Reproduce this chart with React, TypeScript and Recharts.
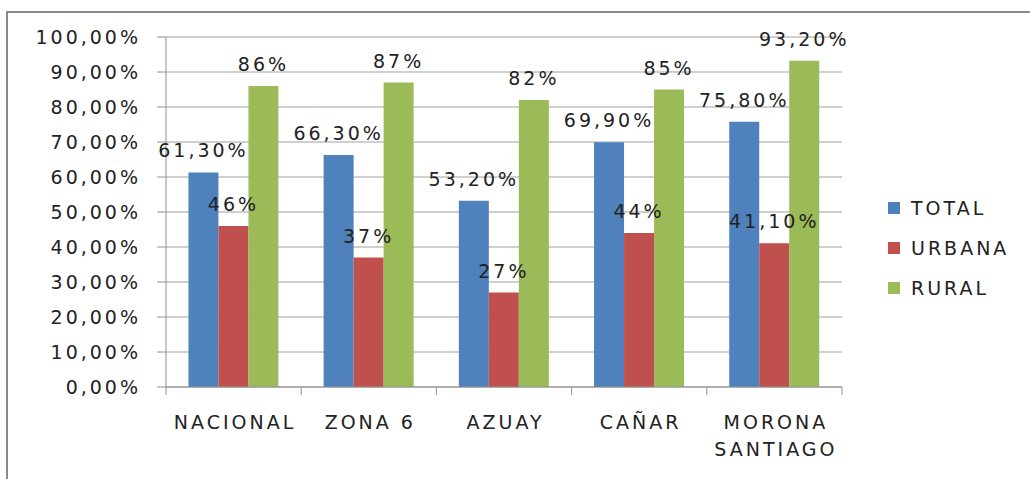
import React from 'react';
import { BarChart, Bar, XAxis, YAxis, CartesianGrid, Legend, LabelList } from 'recharts';

const categories = ['NACIONAL', 'ZONA 6', 'AZUAY', 'CAÑAR', 'MORONA SANTIAGO'];
const totalValues = [61.3, 66.3, 53.2, 69.9, 75.8];
const urbanaValues = [46, 37, 27, 44, 41.1];
const ruralValues = [86, 87, 82, 85, 93.2];
const totalLabels = ['61,30%', '66,30%', '53,20%', '69,90%', '75,80%'];
const urbanaLabels = ['46%', '37%', '27%', '44%', '41,10%'];
const ruralLabels = ['86%', '87%', '82%', '85%', '93,20%'];
const yTicks = [0, 10, 20, 30, 40, 50, 60, 70, 80, 90, 100];
const seriesNames = ['TOTAL', 'URBANA', 'RURAL'];
const seriesColors = ['#4F81BD', '#C0504D', '#9BBB59'];

const data = categories.map((c, i) => ({
  name: c,
  total: totalValues[i],
  urbana: urbanaValues[i],
  rural: ruralValues[i],
  totalLabel: totalLabels[i],
  urbanaLabel: urbanaLabels[i],
  ruralLabel: ruralLabels[i],
}));

const CHART_W = 1030;
const CHART_H = 479;
const MARGIN = { top: 37, right: 188, bottom: 91, left: 0 };
const Y_AXIS_W = 166;
const PLOT_W = CHART_W - MARGIN.right - MARGIN.left - Y_AXIS_W;

const FONT = '"DejaVu Sans", Verdana, sans-serif';
const textStyle = { fontFamily: FONT, fontSize: 19, letterSpacing: 3, fill: '#222' };
const AXIS_COLOR = '#909090';

const CatTick = (props: any) => {
  const { x, y, payload, index } = props;
  const v: string = payload.value;
  const lines = v.length > 10 ? v.split(' ') : [v];
  const half = PLOT_W / categories.length / 2;
  return (
    <g>
      <line x1={x - half} x2={x - half} y1={y} y2={y + 8} stroke={AXIS_COLOR} />
      {index === categories.length - 1 && (
        <line x1={x + half} x2={x + half} y1={y} y2={y + 8} stroke={AXIS_COLOR} />
      )}
      <text x={x} y={y} textAnchor="middle" style={textStyle as any}>
        {lines.map((w, i) => (
          <tspan key={i} x={x + 1.5} dy={i === 0 ? 42 : 27}>
            {w}
          </tspan>
        ))}
      </text>
    </g>
  );
};

const LegendContent = () => (
  <div style={{ fontFamily: FONT, fontSize: 19, letterSpacing: 3, color: '#222' }}>
    {seriesNames.map((n, i) => (
      <div key={n} style={{ display: 'flex', alignItems: 'center', height: 40 }}>
        <div style={{ width: 12, height: 12, background: seriesColors[i], marginRight: 11 }} />
        <span>{n}</span>
      </div>
    ))}
  </div>
);

const fmt = (v: number) => v.toFixed(2).replace('.', ',') + '%';

export default function App() {
  return (
    <div style={{ position: 'absolute', left: 0, top: 0, width: CHART_W, height: CHART_H, overflow: 'hidden', background: '#fff' }}>
      <div
        style={{
          position: 'absolute',
          left: 6,
          top: 11,
          width: 1100,
          height: 600,
          border: '2px solid #8a8a8a',
        }}
      />
      <div style={{ position: 'absolute', left: 0, top: 0 }}>
        <BarChart
          width={CHART_W}
          height={CHART_H}
          data={data}
          margin={MARGIN}
          barCategoryGap="16.6%"
          barGap={0}
        >
          <CartesianGrid vertical={false} stroke="#a0a0a0" />
          <XAxis
            dataKey="name"
            height={1}
            tickLine={false}
            tickSize={0}
            tickMargin={0}
            axisLine={{ stroke: AXIS_COLOR }}
            tick={<CatTick />}
            interval={0}
          />
          <YAxis
            width={Y_AXIS_W}
            domain={[0, 100]}
            ticks={yTicks}
            tickFormatter={fmt}
            tickSize={9}
            tickMargin={16}
            axisLine={{ stroke: AXIS_COLOR }}
            tickLine={{ stroke: AXIS_COLOR }}
            tick={textStyle as any}
            interval={0}
          />
          <Legend
            layout="vertical"
            align="center"
            verticalAlign="middle"
            wrapperStyle={{ left: 888, top: 188, width: 140 }}
            content={<LegendContent />}
          />
          <Bar dataKey="total" name="TOTAL" fill={seriesColors[0]} isAnimationActive={false}>
            <LabelList dataKey="totalLabel" position="top" offset={15} style={textStyle as any} />
          </Bar>
          <Bar dataKey="urbana" name="URBANA" fill={seriesColors[1]} isAnimationActive={false}>
            <LabelList dataKey="urbanaLabel" position="top" offset={15} style={textStyle as any} />
          </Bar>
          <Bar dataKey="rural" name="RURAL" fill={seriesColors[2]} isAnimationActive={false}>
            <LabelList dataKey="ruralLabel" position="top" offset={15} style={textStyle as any} />
          </Bar>
        </BarChart>
      </div>
    </div>
  );
}
